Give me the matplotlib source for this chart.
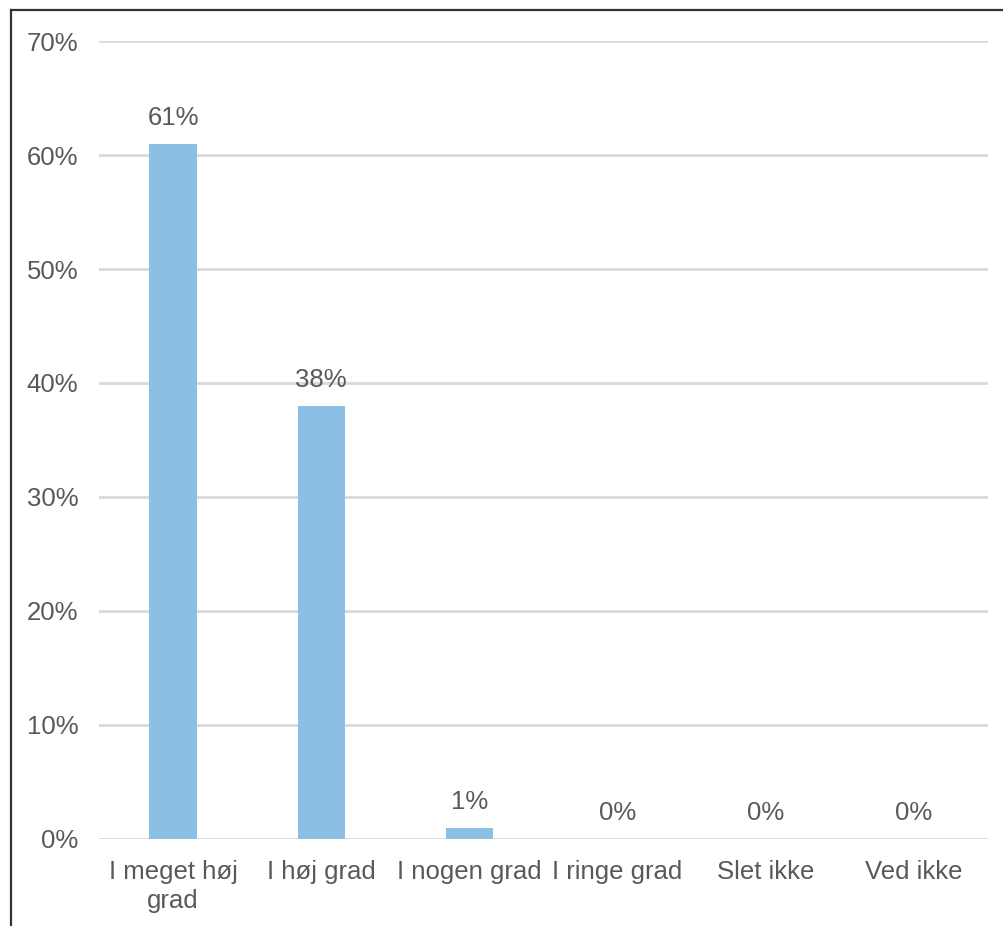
import matplotlib
matplotlib.use("Agg")
from matplotlib import pyplot as plt
from matplotlib.lines import Line2D
import numpy as np

categories = ["I meget høj\ngrad", "I høj grad", "I nogen grad", "I ringe grad", "Slet ikke", "Ved ikke"]
shares = [61, 38, 1, 0, 0, 0]
yticks = [0, 10, 20, 30, 40, 50, 60, 70]

bar_color = "#8BC0E4"
text_color = "#595959"
grid_color = "#D9D9D9"

plt.rcParams["font.family"] = ["Liberation Sans", "DejaVu Sans"]

fig = plt.figure(figsize=(10.04, 9.26), dpi=100)
ax = fig.add_axes([0.0986, 0.094, 0.8855, 0.8617])

x = np.arange(len(categories))
bars = ax.bar(x, shares, width=0.32, color=bar_color, zorder=3)

for xi, v in zip(x, shares):
    ax.annotate(f"{v}%", (xi, v), xytext=(0, 10), textcoords="offset points",
                ha="center", va="bottom", fontsize=18.5, color=text_color)

ax.set_xlim(-0.5, len(categories) - 0.5)
ax.set_ylim(0, 70)
ax.set_yticks(yticks)
ax.set_yticklabels([f"{t}%" for t in yticks])
ax.set_xticks(x)
ax.set_xticklabels(categories, linespacing=1.28)

ax.tick_params(axis="both", length=0, labelsize=18.5, labelcolor=text_color)
ax.tick_params(axis="y", pad=15)
ax.tick_params(axis="x", pad=15)

ax.grid(axis="y", color=grid_color, linewidth=2, zorder=0)
for s in ax.spines.values():
    s.set_visible(False)

# frame lines on the left and top edge of the figure
fig.add_artist(Line2D([0.0105, 0.0105], [0.0, 0.989], color="#333333", linewidth=1.6))
fig.add_artist(Line2D([0.0105, 1.0], [0.989, 0.989], color="#333333", linewidth=1.6))

plt.savefig("out.png", dpi=100)
plt.close()
